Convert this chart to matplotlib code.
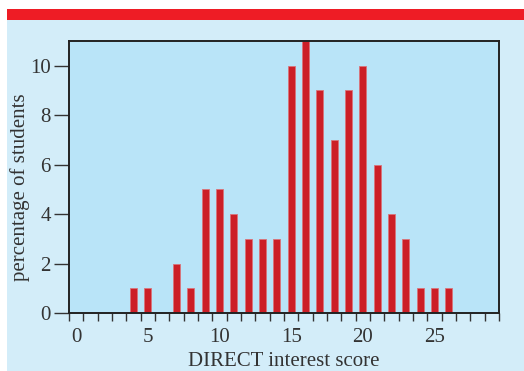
import matplotlib.pyplot as plt
from matplotlib.patches import Rectangle

# DIRECT interest score distribution
scores = [4, 5, 7, 8, 9, 10, 11, 12, 13, 14, 15, 16, 17, 18, 19, 20, 21, 22, 23, 24, 25, 26]
percent = [1, 1, 2, 1, 5, 5, 4, 3, 3, 3, 10, 11, 9, 7, 9, 10, 6, 4, 3, 1, 1, 1]
xtick_labels = [0, 5, 10, 15, 20, 25]
ytick_labels = [0, 2, 4, 6, 8, 10]

plt.rcParams['font.family'] = ['Liberation Serif', 'DejaVu Serif']

fig = plt.figure(figsize=(5.24, 3.71), dpi=100)
W, H = 524, 371
# light blue panel and red band at top
fig.patches.append(Rectangle((7 / W, 0), 1, 1 - 20 / H, transform=fig.transFigure,
                             facecolor='#d3edf9', edgecolor='none', zorder=-2))
fig.patches.append(Rectangle((7 / W, 1 - 20 / H), 1, 11 / H, transform=fig.transFigure,
                             facecolor='#ee1c25', edgecolor='none', zorder=-2))

ax = fig.add_axes([69 / W, 1 - 313 / H, 430 / W, 272 / H])
ax.set_facecolor('#b9e4f8')
ax.bar(scores, percent, width=0.5, color='#cc1f27', edgecolor='#d9737a', linewidth=0.6, zorder=2)

ax.set_xlim(-0.5, 29.5)
ax.set_ylim(0, 11)

# tick marks at bin edges, labels at integer centres
ax.set_xticks([i - 0.5 for i in range(31)])
ax.set_xticklabels([])
ax.set_xticks(xtick_labels, minor=True)
ax.set_xticklabels([str(v) for v in xtick_labels], minor=True)
ax.tick_params(axis='x', which='major', direction='out', length=6, width=1, color='#333333')
ax.tick_params(axis='x', which='minor', length=0, labelsize=15, pad=11, labelcolor='#333333')

ax.set_yticks(ytick_labels)
ax.set_yticklabels([str(v) for v in ytick_labels])
ax.tick_params(axis='y', direction='out', length=11, width=1, color='#333333',
               labelsize=15, labelcolor='#333333', pad=2)

for s in ax.spines.values():
    s.set_linewidth(1.4)
    s.set_color('#222222')

ax.set_xlabel('DIRECT interest score', fontsize=15, color='#333333')
ax.xaxis.set_label_coords(0.5, -0.145)
ax.set_ylabel('percentage of students', fontsize=15, color='#333333')
ax.yaxis.set_label_coords(-0.09, 0.463)

fig.savefig('out.png', dpi=100)
